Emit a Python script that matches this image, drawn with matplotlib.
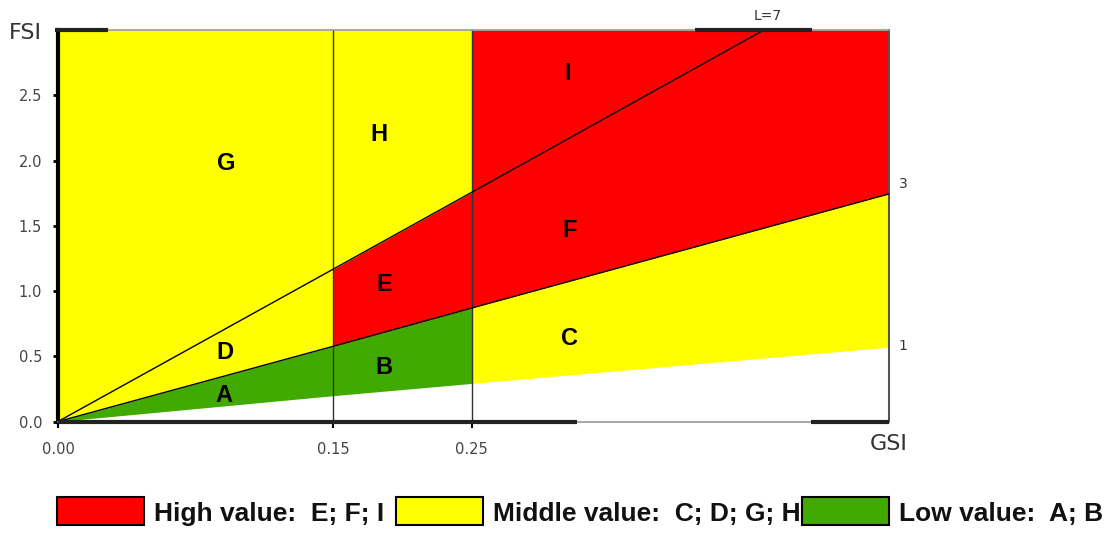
import matplotlib
matplotlib.use("Agg")
import matplotlib.pyplot as plt
import numpy as np
from matplotlib.patches import Rectangle

# GSI breakpoints; the source drawing is not linear in GSI, so the x axis
# uses a piecewise-linear scale through these knots
GSI_KNOTS = [0.00, 0.15, 0.25, 0.55]
GSI_TICKS = [0.00, 0.15, 0.25]
FSI_TICKS = [0.0, 0.5, 1.0, 1.5, 2.0, 2.5]
FSI_MAX = 3.0

# FSI of each boundary line at the GSI knots
LINE_1 = [0.0, 0.198, 0.292, 0.570]
LINE_3 = [0.0, 0.576, 0.870, 1.744]
LINE_7 = [0.0, 1.167, 1.757]
GSI_7_TOP = 0.46          # where line L=7 leaves the top of the plot

LINE_NAMES = ["1", "3", "L=7"]
ZONES = ["A", "B", "C", "D", "E", "F", "G", "H", "I"]
ZONE_GSI = [0.0905, 0.187, 0.32, 0.091, 0.187, 0.32, 0.0915, 0.183, 0.319]
ZONE_FSI = [0.203, 0.416, 0.636, 0.53, 1.047, 1.465, 1.975, 2.20, 2.667]

LEGEND_LABELS = ["High value:  E; F; I", "Middle value:  C; D; G; H", "Low value:  A; B"]
RED, YELLOW, GREEN = "#ff0000", "#ffff00", "#40aa00"
LEGEND_COLORS = [RED, YELLOW, GREEN]

_U = [0.0, 0.331, 0.498, 1.0]   # display fraction of each knot


def _pw(x, xs, ys):
    x = np.asarray(x, float)
    y = np.interp(x, xs, ys)
    y = np.where(x < xs[0], ys[0] + (x - xs[0]) * (ys[1] - ys[0]) / (xs[1] - xs[0]), y)
    y = np.where(x > xs[-1], ys[-1] + (x - xs[-1]) * (ys[-1] - ys[-2]) / (xs[-1] - xs[-2]), y)
    return y


fwd = lambda x: _pw(x, GSI_KNOTS, _U)
inv = lambda u: _pw(u, _U, GSI_KNOTS)

fig = plt.figure(figsize=(11.15, 5.35), dpi=100)
ax = fig.add_axes([0.052, 0.2121, 0.7453, 0.7318])
ax.set_xscale("function", functions=(fwd, inv))
ax.set_xlim(GSI_KNOTS[0], GSI_KNOTS[-1])
ax.set_ylim(0, FSI_MAX)

x = np.array(GSI_KNOTS)
l1, l3, l7 = np.array(LINE_1), np.array(LINE_3), np.array(LINE_7)
kw = dict(linewidth=0, zorder=1)
ax.fill_between(x[0:2], l3[0:2], FSI_MAX, color=YELLOW, **kw)      # D, G
ax.fill_between(x[0:3], l1[0:3], l3[0:3], color=GREEN, **kw)       # A, B
ax.fill_between(x[1:3], l3[1:3], l7[1:3], color=RED, **kw)         # E
ax.fill_between(x[1:3], l7[1:3], FSI_MAX, color=YELLOW, **kw)      # H
ax.fill_between(x[2:4], l3[2:4], FSI_MAX, color=RED, **kw)         # F, I
ax.fill_between(x[2:4], l1[2:4], l3[2:4], color=YELLOW, **kw)      # C

for g in GSI_TICKS[1:]:
    ax.axvline(g, color="#333333", lw=1, zorder=2)
ax.plot(x, l3, color="black", lw=1, zorder=3)
ax.plot(list(x[:3]) + [GSI_7_TOP], list(l7) + [FSI_MAX], color="black", lw=1, zorder=3)

for name, z_x, z_y in zip(ZONES, ZONE_GSI, ZONE_FSI):
    ax.text(z_x, z_y, name, ha="center", va="center", fontsize=17,
            fontweight="bold", family="Liberation Sans", zorder=4)

# line labels
ax.annotate(LINE_NAMES[0], (x[-1], l1[-1]), xytext=(7, 1), textcoords="offset points",
            ha="left", va="center", fontsize=10, color="#333333", annotation_clip=False)
ax.annotate(LINE_NAMES[1], (x[-1], l3[-1]), xytext=(7, 7), textcoords="offset points",
            ha="left", va="center", fontsize=10, color="#333333", annotation_clip=False)
ax.annotate(LINE_NAMES[2], (GSI_7_TOP, FSI_MAX), xytext=(3, 10), textcoords="offset points",
            ha="center", va="center", fontsize=10, color="#333333", annotation_clip=False)

# axes, ticks
ax.set_yticks(FSI_TICKS)
ax.set_yticklabels([f"{v:.1f}" for v in FSI_TICKS])
ax.set_xticks(GSI_TICKS)
ax.set_xticklabels([f"{v:.2f}" for v in GSI_TICKS])
ax.tick_params(axis="y", length=3.5, width=2, pad=8, labelsize=10.5, labelcolor="#444444")
ax.tick_params(axis="x", length=4, width=1.5, pad=11, labelsize=10.5, labelcolor="#444444")
ax.xaxis.set_minor_locator(matplotlib.ticker.NullLocator())

ax.spines["left"].set_linewidth(3)
ax.spines["left"].set_color("black")
ax.spines["right"].set_linewidth(1.5)
ax.spines["right"].set_color("#555555")
for s in ("top", "bottom"):
    ax.spines[s].set_linewidth(1.2)
    ax.spines[s].set_color("#999999")
for (a, b), yy in [((0.0, 0.625), 0), ((0.906, 1.0), 0), ((-0.004, 0.06), 1), ((0.767, 0.907), 1)]:
    ax.plot([a, b], [yy, yy], color="#222222", lw=3, transform=ax.transAxes,
            clip_on=False, solid_capstyle="butt", zorder=5)

fig.text(25 / 1115, 1 - 33 / 535, "FSI", ha="center", va="center", fontsize=16, color="#333333")
fig.text(889 / 1115, 1 - 444 / 535, "GSI", ha="center", va="center", fontsize=16, color="#333333")

# legend row
for lx, col, lab in zip([57, 396, 802], LEGEND_COLORS, LEGEND_LABELS):
    fig.patches.append(Rectangle((lx / 1115, 1 - 525 / 535), 87 / 1115, 28 / 535,
                                 facecolor=col, edgecolor="black", lw=1.5,
                                 transform=fig.transFigure, figure=fig))
    fig.text((lx + 97) / 1115, 1 - 514 / 535, lab, ha="left", va="center",
             fontsize=19, fontweight="bold", family="Liberation Sans", color="#111111")

fig.savefig("out.png", dpi=100)
